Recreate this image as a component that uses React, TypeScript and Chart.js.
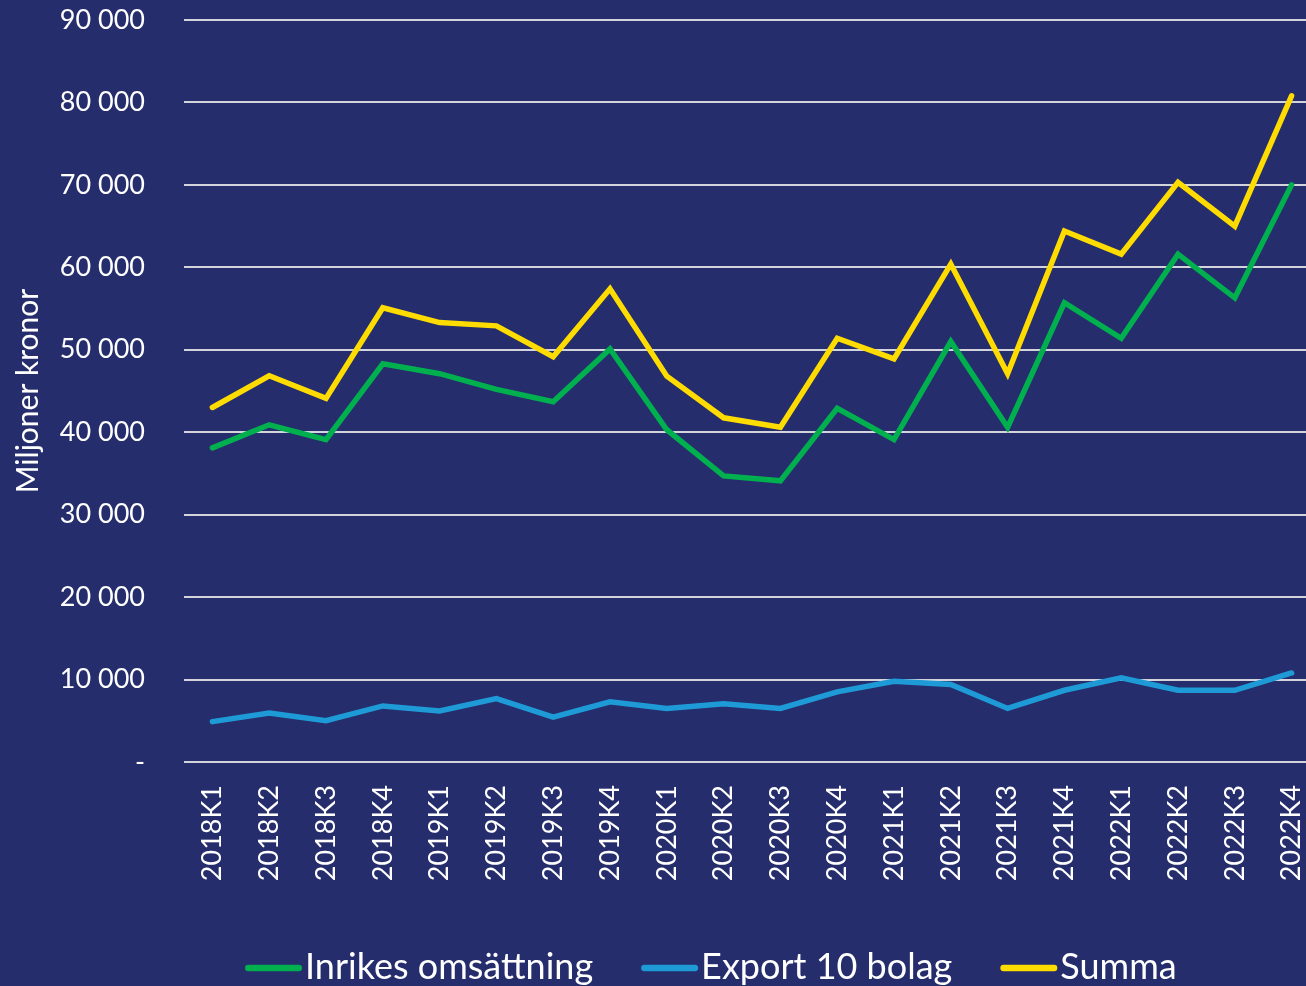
import { useEffect, useRef } from "react";
import { Chart, registerables } from "chart.js";

Chart.register(...registerables);

const quarters = [
  "2018K1", "2018K2", "2018K3", "2018K4",
  "2019K1", "2019K2", "2019K3", "2019K4",
  "2020K1", "2020K2", "2020K3", "2020K4",
  "2021K1", "2021K2", "2021K3", "2021K4",
  "2022K1", "2022K2", "2022K3", "2022K4",
];

const inrikes = [
  38100, 40900, 39100, 48300,
  47100, 45200, 43700, 50100,
  40300, 34700, 34100, 42900,
  39100, 51000, 40600, 55700,
  51400, 61600, 56300, 70000,
];

const export10 = [
  4900, 5950, 5000, 6800,
  6200, 7700, 5450, 7300,
  6500, 7050, 6500, 8500,
  9800, 9400, 6500, 8700,
  10200, 8700, 8700, 10800,
];

const summa = [
  43000, 46850, 44100, 55100,
  53300, 52900, 49150, 57400,
  46800, 41750, 40600, 51400,
  48900, 60400, 47100, 64400,
  61600, 70300, 65000, 80800,
];

const seriesNames = ["Inrikes omsättning", "Export 10 bolag", "Summa"];
const seriesColors = ["#00b04f", "#1e9bd7", "#ffdc00"];
const yAxisTitle = "Miljoner kronor";

const FONT = "Lato";
const BG = "#252d6c";

// Legend drawn on the chart canvas: line sample, small gap, label text.
const bottomLegend = {
  id: "bottomLegend",
  afterDraw(chart: any, _args: any, opts: any) {
    const ctx = chart.ctx as CanvasRenderingContext2D;
    ctx.save();
    ctx.font = `${opts.size}px ${opts.family}`;
    ctx.textAlign = "left";
    ctx.textBaseline = "alphabetic";
    let x = opts.x;
    const lw = opts.lineWidth;
    chart.data.datasets.forEach((ds: any) => {
      ctx.strokeStyle = ds.borderColor;
      ctx.lineWidth = lw;
      ctx.lineCap = "round";
      ctx.beginPath();
      ctx.moveTo(x + lw / 2, opts.lineY);
      ctx.lineTo(x + opts.boxWidth - lw / 2, opts.lineY);
      ctx.stroke();
      x += opts.boxWidth + opts.textGap;
      ctx.fillStyle = opts.color;
      ctx.fillText(ds.label, x, opts.baseY);
      x += ctx.measureText(ds.label).width + opts.itemGap;
    });
    ctx.restore();
  },
};

function fmt(v: number) {
  if (v === 0) return "-";
  return String(v).replace(/\B(?=(\d{3})+(?!\d))/g, " ");
}

const zeroPad = (s: any) => {
  s.paddingTop = 0;
  s.paddingBottom = 0;
  s.paddingLeft = 0;
  s.paddingRight = 0;
};

export default function App() {
  const ref = useRef<HTMLCanvasElement | null>(null);

  useEffect(() => {
    if (!ref.current) return;
    const data = [inrikes, export10, summa];
    const chart = new Chart(ref.current, {
      type: "line",
      data: {
        labels: quarters,
        datasets: data.map((d, i) => ({
          label: seriesNames[i],
          data: d,
          borderColor: seriesColors[i],
          backgroundColor: seriesColors[i],
          borderWidth: 5.5,
          pointRadius: 0,
          pointHoverRadius: 0,
          tension: 0,
          borderCapStyle: "round" as const,
          borderJoinStyle: "miter" as const,
          fill: false,
        })),
      },
      plugins: [bottomLegend],
      options: {
        animation: false,
        responsive: false,
        maintainAspectRatio: false,
        layout: { padding: { top: 20, left: 0, right: 10, bottom: 93 } },
        plugins: {
          tooltip: { enabled: false },
          legend: { display: false },
          bottomLegend: {
            x: 245,
            lineY: 968,
            baseY: 979,
            boxWidth: 57,
            lineWidth: 6.5,
            textGap: 3,
            itemGap: 48,
            size: 36,
            family: FONT,
            color: "#ffffff",
          },
        } as any,
        scales: {
          x: {
            offset: true,
            grid: { display: false, drawTicks: false },
            border: { display: false },
            ticks: {
              color: "#ffffff",
              font: { family: FONT, size: 27 },
              minRotation: 90,
              maxRotation: 90,
              padding: 23,
              autoSkip: false,
            },
            afterFit: (s: any) => {
              s.height = 140;
              zeroPad(s);
            },
          },
          y: {
            min: 0,
            max: 90000,
            grid: { color: "#d4d4dc", lineWidth: 2, drawTicks: false },
            border: { display: false },
            ticks: {
              stepSize: 10000,
              color: "#ffffff",
              font: { family: FONT, size: 27 },
              padding: 39,
              callback: (v: any) => fmt(Number(v)),
            },
            title: {
              display: true,
              text: yAxisTitle,
              color: "#ffffff",
              font: { family: FONT, size: 30 },
              padding: { top: 10, bottom: 0 },
            },
            afterFit: (s: any) => {
              s.width = 184;
              zeroPad(s);
            },
          },
        },
      },
    });
    return () => chart.destroy();
  }, []);

  return (
    <div
      style={{
        position: "fixed",
        left: 0,
        top: 0,
        width: 1306,
        height: 986,
        overflow: "hidden",
        background: BG,
      }}
    >
      <canvas
        ref={ref}
        width={1330}
        height={995}
        style={{ display: "block", width: 1330, height: 995 }}
      />
    </div>
  );
}
